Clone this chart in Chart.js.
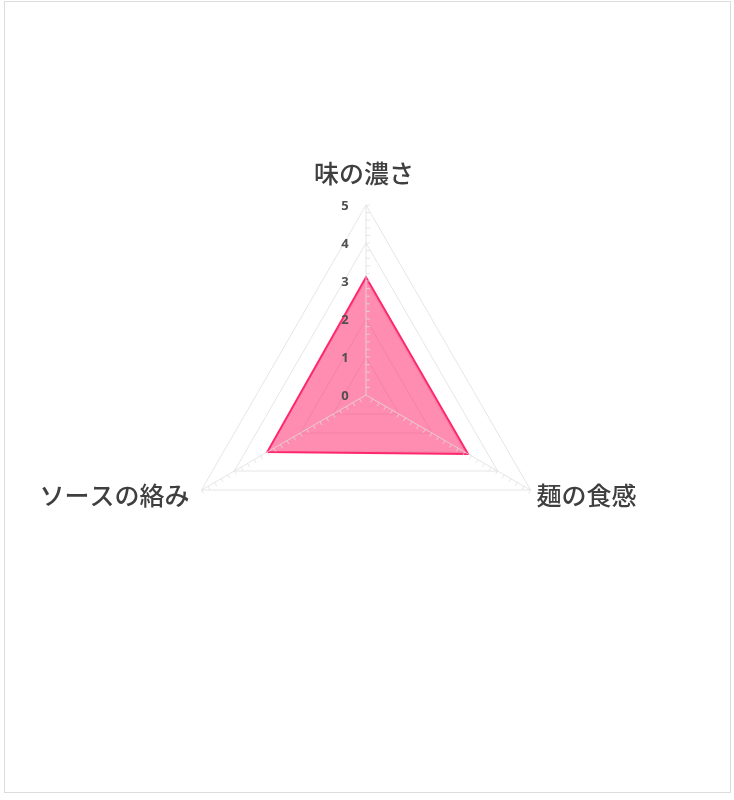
<!DOCTYPE html>
<html lang="ja">
<head>
<meta charset="utf-8">
<title>レーダーチャート</title>
<script src="https://cdn.jsdelivr.net/npm/chart.js@4.4.1/dist/chart.umd.min.js"></script>
<style>
    html, body {
        margin: 0;
        padding: 0;
        background: #ffffff;
    }
    .frame {
        position: absolute;
        left: 4px;
        top: 1px;
        width: 725px;
        height: 790px;
        border: 1px solid #dcdcdc;
    }
    .chart-box {
        position: absolute;
        left: 0;
        top: 0;
        width: 734px;
        height: 800px;
    }
</style>
</head>
<body>
<div class="frame"></div>
<div class="chart-box">
    <canvas id="tasteChart" width="734" height="800"></canvas>
</div>
<script>
// Chart data
const categories = ['味の濃さ', '麺の食感', 'ソースの絡み'];
const scores = [3.1, 3.1, 3.0];
const tickValues = [0, 1, 2, 3, 4, 5];
const minorStep = 0.2;

// Axis lines with small ticks, tick numbers and category labels
const radarDecor = {
    id: 'radarDecor',
    afterDatasetsDraw(chart) {
        const scale = chart.scales.r;
        const ctx = chart.ctx;
        const max = scale.max;
        const center = scale.getPointPositionForValue(0, 0);

        ctx.save();
        ctx.strokeStyle = 'rgba(222, 222, 222, 0.75)';
        ctx.lineWidth = 1;

        for (let i = 0; i < categories.length; i++) {
            const outer = scale.getPointPositionForValue(i, max);
            ctx.beginPath();
            ctx.moveTo(center.x, center.y);
            ctx.lineTo(outer.x, outer.y);
            ctx.stroke();

            // perpendicular tick direction (down, or right on a vertical axis)
            const len = Math.hypot(outer.x - center.x, outer.y - center.y);
            const dx = (outer.x - center.x) / len;
            const dy = (outer.y - center.y) / len;
            let px = -dy, py = dx;
            if (py < -0.01 || (Math.abs(py) <= 0.01 && px < 0)) {
                px = -px;
                py = -py;
            }
            const steps = Math.round(max / minorStep);
            for (let s = 1; s <= steps; s++) {
                const p = scale.getPointPositionForValue(i, s * minorStep);
                ctx.beginPath();
                ctx.moveTo(p.x, p.y);
                ctx.lineTo(p.x + px * 4, p.y + py * 4);
                ctx.stroke();
            }
        }

        // tick numbers
        ctx.fillStyle = '#505050';
        ctx.font = 'bold 13px "Open Sans", "DejaVu Sans", sans-serif';
        ctx.textAlign = 'center';
        ctx.textBaseline = 'middle';
        tickValues.forEach(function(v) {
            const p = scale.getPointPositionForValue(0, v);
            ctx.fillText(String(v), p.x - 21, p.y + 1);
        });

        // category labels
        ctx.fillStyle = '#3f3f3f';
        ctx.font = '500 25px "Noto Sans CJK JP", "Noto Sans", sans-serif';
        categories.forEach(function(label, i) {
            const p = scale.getPointPositionForValue(i, max);
            if (Math.abs(p.x - center.x) < 1) {
                ctx.textAlign = 'center';
                ctx.fillText(label, p.x - 2, p.y - 32);
            } else if (p.x > center.x) {
                ctx.textAlign = 'left';
                ctx.fillText(label, p.x + 6, p.y + 5);
            } else {
                ctx.textAlign = 'right';
                ctx.fillText(label, p.x - 12, p.y + 5);
            }
        });
        ctx.restore();
    }
};

document.addEventListener('DOMContentLoaded', function() {
    const ctx = document.getElementById('tasteChart').getContext('2d');

    new Chart(ctx, {
        type: 'radar',
        data: {
            labels: categories,
            datasets: [{
                label: '評価',
                data: scores,
                borderColor: 'rgb(255, 40, 110)',
                backgroundColor: 'rgba(255, 40, 110, 0.53)',
                borderWidth: 2,
                fill: true,
                tension: 0,
                pointRadius: 0,
                pointHoverRadius: 0
            }]
        },
        options: {
            responsive: false,
            animation: false,
            layout: {
                padding: { left: 176, right: 178, top: 205, bottom: 215 }
            },
            plugins: {
                legend: { display: false },
                tooltip: { enabled: false }
            },
            scales: {
                r: {
                    min: 0,
                    max: 5,
                    ticks: {
                        stepSize: 1,
                        display: false
                    },
                    grid: {
                        color: '#e6e6e6',
                        lineWidth: 1
                    },
                    angleLines: {
                        display: false
                    },
                    pointLabels: {
                        display: false
                    }
                }
            }
        },
        plugins: [radarDecor]
    });
});
</script>
</body>
</html>
